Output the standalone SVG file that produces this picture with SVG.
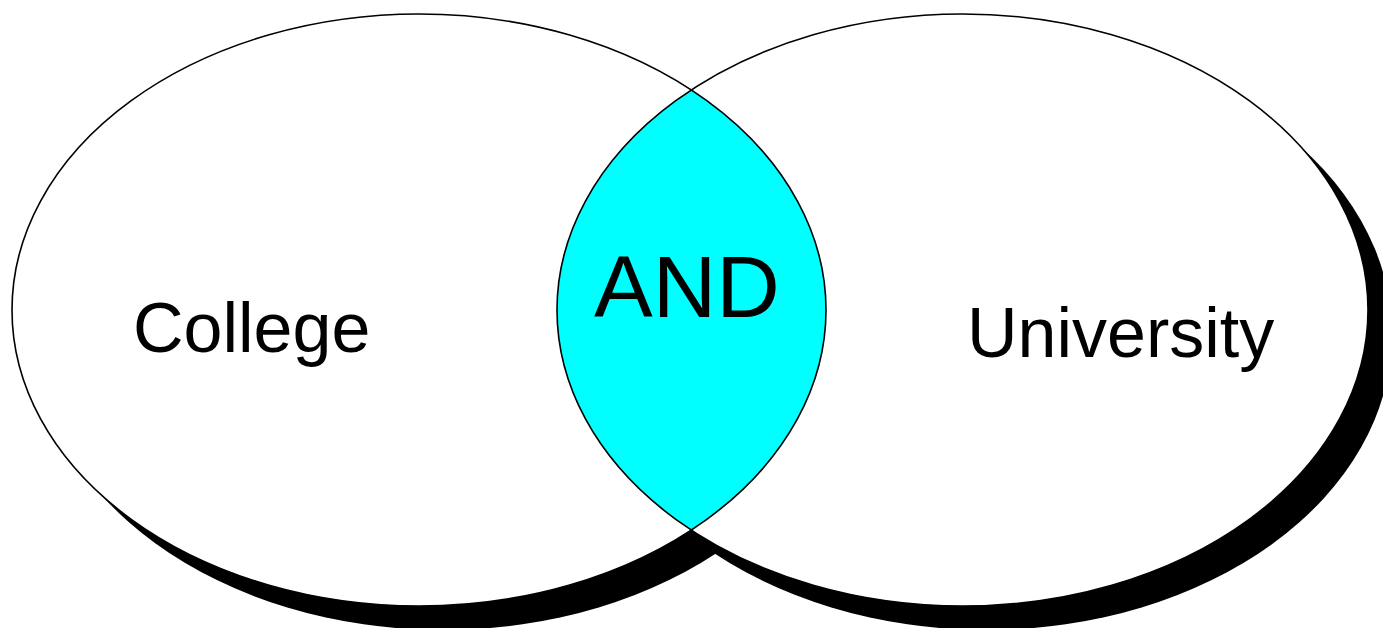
<svg xmlns="http://www.w3.org/2000/svg" width="1383" height="628" viewBox="0 0 1383 628">
  <style>
    .shadow { fill: #000; stroke: none; }
    .set { fill: #fff; stroke: none; }
    .outline { fill: none; stroke: #000; stroke-width: 1.6; }
    .lens { fill: #00ffff; stroke: none; }
    .label { font-family: "Liberation Sans", Arial, sans-serif; fill: #000; }
  </style>
  <defs>
    <clipPath id="clipLeft">
      <ellipse cx="419" cy="310" rx="407" ry="296"/>
    </clipPath>
  </defs>
  <rect width="1383" height="628" fill="#fff"/>
  <g id="shadows">
    <ellipse class="shadow" cx="443" cy="334" rx="407" ry="296"/>
    <ellipse class="shadow" cx="986.5" cy="334" rx="405.5" ry="296"/>
  </g>
  <g id="college">
    <ellipse class="set" cx="419" cy="310" rx="407" ry="296"/>
  </g>
  <g id="university">
    <ellipse class="set" cx="962.5" cy="310" rx="405.5" ry="296"/>
  </g>
  <g id="and">
    <ellipse class="lens" cx="962.5" cy="310" rx="405.5" ry="296" clip-path="url(#clipLeft)"/>
  </g>
  <g id="outlines">
    <ellipse class="outline" cx="419" cy="310" rx="407" ry="296"/>
    <ellipse class="outline" cx="962.5" cy="310" rx="405.5" ry="296"/>
  </g>
  <g id="labels">
    <text class="label" x="133" y="352" font-size="70">College</text>
    <text class="label" x="967" y="357" font-size="70">University</text>
    <text class="label" x="594" y="317" font-size="88">AND</text>
  </g>
</svg>
